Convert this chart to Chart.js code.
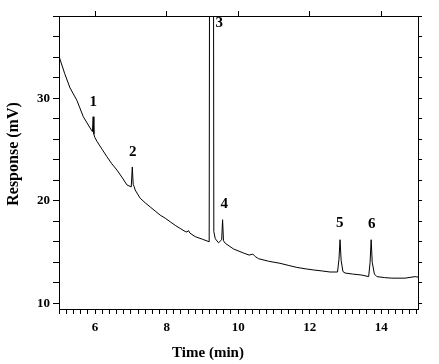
<!DOCTYPE html>
<html>
<head>
<meta charset="utf-8">
<script src="https://cdn.jsdelivr.net/npm/chart.js@4"></script>
<style>
  body { margin: 0; background: #fff; }
</style>
</head>
<body>
<canvas id="chromatogram" width="439" height="364"></canvas>
<script>
// retention time (min) and detector response (mV)
const times = [5.0, 5.15, 5.3, 5.49, 5.67, 5.86, 5.925, 5.945, 5.965, 5.99, 6.05, 6.2, 6.33, 6.47, 6.61, 6.75, 6.89,
  7.01, 7.04, 7.065, 7.09, 7.12, 7.26, 7.4, 7.54, 7.68, 7.82, 7.96, 8.1, 8.24, 8.38, 8.52, 8.57, 8.61, 8.65, 8.8, 9.0,
  9.19, 9.2575, 9.32, 9.36, 9.45, 9.54, 9.565, 9.59, 9.64, 9.87, 10.15, 10.31, 10.41, 10.48, 10.57, 10.85, 11.17,
  11.4, 11.64, 11.9, 12.11, 12.35, 12.57, 12.78, 12.82, 12.85, 12.88, 12.93, 12.99, 13.2, 13.46, 13.65, 13.69, 13.72,
  13.75, 13.81, 13.88, 14.1, 14.3, 14.67, 14.95, 15.03];
const response = [34.0, 32.4, 31.0, 29.8, 28.2, 27.1, 26.75, 28.2, 26.5, 26.2, 25.8, 25.0, 24.3, 23.6, 23.0, 22.3, 21.55,
  21.35, 23.3, 21.6, 21.4, 21.05, 20.25, 19.8, 19.4, 19.0, 18.6, 18.3, 17.95, 17.6, 17.3, 17.0, 16.95, 17.1, 16.85, 16.5, 16.25,
  16.0, 200, 17.0, 16.3, 15.9, 16.2, 18.15, 16.1, 15.85, 15.3, 14.9, 14.7, 14.8, 14.55, 14.35, 14.1, 13.9,
  13.7, 13.5, 13.35, 13.25, 13.15, 13.05, 13.05, 14.3, 16.2, 14.2, 13.1, 12.95, 12.85, 12.75, 12.6, 14.0, 16.2,
  14.0, 12.85, 12.6, 12.5, 12.45, 12.45, 12.6, 12.55];

// peak numbers and where they are written
const peakLabels = ["1", "2", "3", "4", "5", "6"];
const peakTimes = [5.95, 7.05, 9.47, 9.61, 12.84, 13.74];
const peakResponses = [29.6, 24.7, 37.3, 19.7, 17.8, 17.7];

const xMin = 4.99, xMax = 15.03;
const yMin = 9.44, yMax = 38.03;

const serif = '"Liberation Serif", "Times New Roman", serif';
Chart.defaults.font.family = serif;
Chart.defaults.color = "#000";

const isMajor = (v, step) => Math.abs(v / step - Math.round(v / step)) < 1e-6;

const labelsPlugin = {
  id: "peakLabels",
  afterDraw(chart) {
    const { ctx, scales: { x, y } } = chart;
    ctx.save();
    ctx.fillStyle = "#000";
    ctx.textAlign = "center";
    ctx.textBaseline = "middle";
    ctx.font = "bold 15px " + serif;
    peakLabels.forEach((lab, i) => {
      ctx.fillText(lab, x.getPixelForValue(peakTimes[i]), y.getPixelForValue(peakResponses[i]));
    });
    // axis titles
    ctx.font = "bold 15px " + serif;
    ctx.fillText("Time (min)", 208, 353);
    ctx.translate(14, 154);
    ctx.rotate(-Math.PI / 2);
    ctx.font = "bold 16px " + serif;
    ctx.fillText("Response (mV)", 0, 0);
    ctx.restore();
  }
};

const axisGrid = { drawOnChartArea: false, drawTicks: true, tickLength: 5, color: "#000" };
const axisBorder = { display: true, color: "#000", width: 1 };

new Chart(document.getElementById("chromatogram"), {
  type: "line",
  data: {
    datasets: [{
      data: times.map((t, i) => ({ x: t, y: response[i] })),
      borderColor: "#000",
      borderWidth: 1,
      pointRadius: 0,
      tension: 0,
      fill: false
    }]
  },
  options: {
    responsive: false,
    animation: false,
    layout: { padding: 0 },
    plugins: { legend: { display: false }, tooltip: { enabled: false } },
    scales: {
      x: {
        type: "linear", position: "bottom", min: xMin, max: xMax,
        border: axisBorder, grid: axisGrid,
        ticks: {
          stepSize: 0.2, autoSkip: false, includeBounds: false, maxRotation: 0, padding: 6,
          font: { size: 13, weight: "bold" },
          callback: v => (isMajor(v, 2) ? String(Math.round(v)) : "")
        },
        afterFit: s => { s.height = 55; }
      },
      x2: {
        type: "linear", position: "top", min: xMin, max: xMax,
        border: axisBorder, grid: axisGrid,
        ticks: { stepSize: 2, includeBounds: false, display: false },
        afterFit: s => { s.height = 16; }
      },
      y: {
        type: "linear", position: "left", min: yMin, max: yMax,
        border: axisBorder, grid: { ...axisGrid, tickLength: 6 },
        ticks: {
          stepSize: 2, autoSkip: false, includeBounds: false, padding: 3,
          font: { size: 13, weight: "bold" },
          callback: v => (isMajor(v, 10) ? String(Math.round(v)) : "")
        },
        afterFit: s => { s.width = 59; }
      },
      y2: {
        type: "linear", position: "right", min: yMin, max: yMax,
        border: axisBorder, grid: { ...axisGrid, tickLength: 4 },
        ticks: { stepSize: 2, includeBounds: false, display: false },
        afterFit: s => { s.width = 21; }
      }
    }
  },
  plugins: [labelsPlugin]
});
</script>
</body>
</html>
